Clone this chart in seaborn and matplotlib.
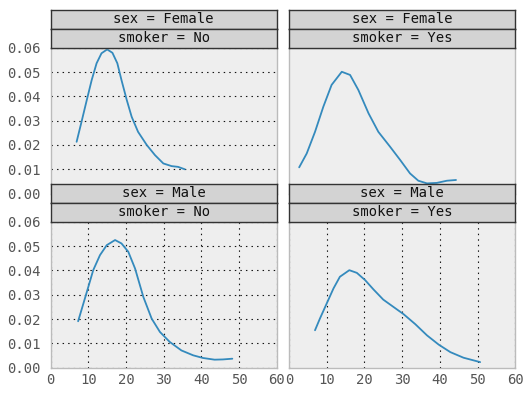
import numpy as np
import pandas as pd
import matplotlib
matplotlib.use('Agg')
import matplotlib.pyplot as plt
import seaborn as sns

sns.set_theme(style="white")
plt.rcParams['font.family'] = ['DejaVu Sans Mono']

# density curves of total_bill
fem_no_x = [6.9, 8.2, 9.6, 10.9, 12.2, 13.5, 15.0, 16.4, 17.7, 18.8, 20.2, 21.5, 23.2,
            25.5, 27.7, 29.9, 32.1, 33.8, 35.6]
fem_no_y = [0.0213, 0.0295, 0.0385, 0.0467, 0.0536, 0.0577, 0.0593, 0.0579, 0.0536, 0.0467,
            0.0385, 0.0316, 0.0254, 0.0200, 0.0158, 0.0124, 0.0113, 0.0110, 0.0100]

fem_yes_x = [2.7, 4.7, 6.9, 9.1, 11.3, 14.0, 16.2, 18.4, 21.1, 23.7, 26.8, 29.5, 32.1,
             34.3, 36.6, 39.2, 41.9, 44.3]
fem_yes_y = [0.0108, 0.0165, 0.0254, 0.0357, 0.0447, 0.0501, 0.0488, 0.0426, 0.0330, 0.0254,
             0.0193, 0.0138, 0.0083, 0.0053, 0.0042, 0.0044, 0.0053, 0.0056]

male_no_x = [7.3, 8.7, 10.0, 11.3, 13.1, 14.9, 17.1, 18.8, 20.6, 22.4, 24.6, 26.8, 29.0,
             31.6, 34.7, 37.8, 40.4, 43.5, 45.7, 48.2]
male_no_y = [0.0191, 0.0264, 0.0332, 0.0401, 0.0463, 0.0504, 0.0525, 0.0511, 0.0477, 0.0408,
             0.0291, 0.0202, 0.0147, 0.0106, 0.0071, 0.0051, 0.0040, 0.0033, 0.0034, 0.0037]

male_yes_x = [6.9, 8.2, 10.0, 11.8, 13.5, 16.0, 18.0, 20.2, 22.4, 25.0, 27.7, 30.4, 33.5,
              36.6, 39.7, 42.8, 46.3, 50.7]
male_yes_y = [0.0154, 0.0202, 0.0264, 0.0326, 0.0374, 0.0401, 0.0390, 0.0360, 0.0322, 0.0280,
              0.0250, 0.0220, 0.0179, 0.0133, 0.0095, 0.0064, 0.0041, 0.0023]

sexes = ['Female', 'Male']
smokers = ['No', 'Yes']
x_ticks = [0, 10, 20, 30, 40, 50, 60]
y_ticks = [0.00, 0.01, 0.02, 0.03, 0.04, 0.05, 0.06]

frames = []
for sex, smoker, xs, ys in [('Female', 'No', fem_no_x, fem_no_y),
                            ('Female', 'Yes', fem_yes_x, fem_yes_y),
                            ('Male', 'No', male_no_x, male_no_y),
                            ('Male', 'Yes', male_yes_x, male_yes_y)]:
    frames.append(pd.DataFrame({'total_bill': xs, 'density': ys, 'sex': sex, 'smoker': smoker}))
df = pd.concat(frames, ignore_index=True)

g = sns.FacetGrid(df, row='sex', col='smoker', row_order=sexes, col_order=smokers,
                  sharex=True, sharey=True, despine=False, height=2)
g.map_dataframe(sns.lineplot, x='total_bill', y='density', color='#348ABD',
                linewidth=1.3, estimator=None)
g.set_titles('')
g.set_axis_labels('', '')

fig = g.figure
fig.set_size_inches(5.31, 3.98)
W, H = 531.0, 398.0

col_left = [50.6, 289.0]
col_width = 226.2
row_top = [47.7, 221.8]
row_height = 145.9
strip_h = 19.0

grid_kw = dict(color='#111111', linestyle=(0, (1.3, 3.7)), linewidth=0.8)

for i, sex in enumerate(sexes):
    for j, smoker in enumerate(smokers):
        ax = g.axes[i, j]
        ax.set_position([col_left[j] / W, 1 - (row_top[i] + row_height) / H,
                         col_width / W, row_height / H])
        ax.set_facecolor('#EEEEEE')
        ax.set_xlim(0, 60)
        ax.set_ylim(0, 0.06)
        ax.set_xticks(x_ticks)
        ax.set_yticks(y_ticks)
        ax.set_yticklabels([f'{v:.2f}' for v in y_ticks])
        ax.tick_params(length=0, labelsize=10, labelcolor='#555555')
        ax.tick_params(axis='y', pad=7)
        ax.tick_params(axis='x', pad=4)
        for sp in ax.spines.values():
            sp.set_color('#BBBBBB')
            sp.set_linewidth(1)
        if i == 0:
            ax.tick_params(labelbottom=False)
        else:
            ax.grid(axis='x', **grid_kw)
        if j == 1:
            ax.tick_params(labelleft=False)
        else:
            ax.grid(axis='y', **grid_kw)
        ax.set_xlabel('')
        ax.set_ylabel('')

        # two stacked facet strips above each panel
        labels = [f'sex = {sex}', f'smoker = {smoker}']
        for k, lab in enumerate(labels):
            top = row_top[i] - strip_h * (2 - k)
            sax = fig.add_axes([col_left[j] / W, 1 - (top + strip_h) / H,
                                col_width / W, strip_h / H])
            sax.set_facecolor('#D3D3D3')
            sax.set_xticks([])
            sax.set_yticks([])
            for sp in sax.spines.values():
                sp.set_color('#333333')
                sp.set_linewidth(1)
            sax.text(0.5, 0.5, lab, ha='center', va='center', fontsize=10,
                     color='#111111', transform=sax.transAxes)
            sax.set_zorder(5)

fig.savefig('out.png', dpi=100)
